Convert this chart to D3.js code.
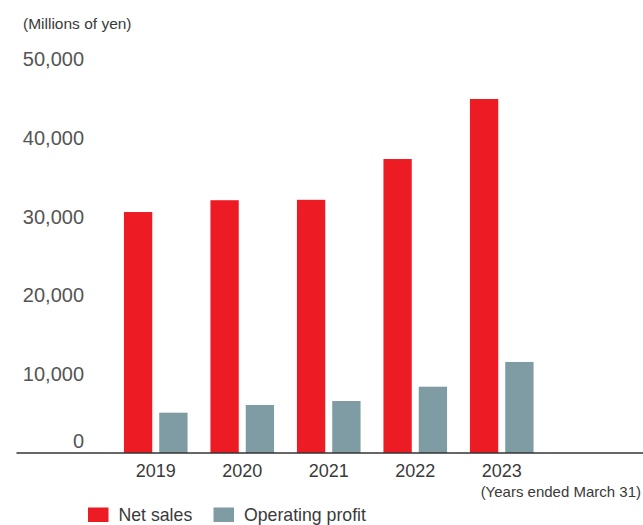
<!DOCTYPE html>
<html>
<head>
<meta charset="utf-8">
<script src="https://cdn.jsdelivr.net/npm/d3@7.9.0/dist/d3.min.js"></script>
<style>
  html, body { margin: 0; padding: 0; background: #fff; }
  svg text { font-family: "Liberation Sans", Arial, sans-serif; }
</style>
</head>
<body>
<div id="chart"></div>
<script>
// --- Data ---
const years = ["2019", "2020", "2021", "2022", "2023"];
const netSales = [30600, 32100, 32150, 37330, 44950];
const operatingProfit = [5120, 6100, 6600, 8420, 11560];
const yTicks = [0, 10000, 20000, 30000, 40000, 50000];
const seriesNames = ["Net sales", "Operating profit"];

// --- Setup ---
const W = 643;
const H = 525;
const BASE_Y = 453;

const RED = "#ed1c24";
const GRAY = "#7f9ba4";
const colors = [RED, GRAY];

const rows = years.map((yr, i) => ({ year: yr, values: [netSales[i], operatingProfit[i]] }));

const x0 = d3.scaleBand().domain(years).range([112.5, 545]).paddingInner(0);
const x1 = d3.scaleBand().domain([0, 1]).range([11.45, 75.05]).paddingInner(0.198);
const y = d3.scaleLinear().domain([0, 50000]).range([BASE_Y, 59.25]);

const svg = d3.select("#chart").append("svg").attr("width", W).attr("height", H);

// unit label
svg.append("text")
  .attr("x", 23)
  .attr("y", 29)
  .attr("font-size", 15.5)
  .attr("fill", "#3a3a3a")
  .text("(Millions of yen)");

// y axis labels
const yAxis = svg.append("g")
  .attr("transform", "translate(87,0)")
  .call(d3.axisLeft(y).tickValues(yTicks).tickSize(0).tickPadding(3).tickFormat(d3.format(",")));
yAxis.select(".domain").remove();
yAxis.selectAll("text")
  .attr("font-size", 20)
  .attr("fill", "#555")
  .style("font-family", "Liberation Sans, Arial, sans-serif");
// the zero label sits just above the baseline
yAxis.selectAll(".tick").filter((d) => d === 0).select("text").attr("y", -11.5);

// bars
const groups = svg.append("g")
  .selectAll("g")
  .data(rows)
  .join("g")
  .attr("transform", (d) => `translate(${x0(d.year)},0)`);

groups.selectAll("rect")
  .data((d) => d.values.map((v, k) => ({ k, v })))
  .join("rect")
  .attr("x", (d) => x1(d.k))
  .attr("width", x1.bandwidth())
  .attr("y", (d) => y(d.v))
  .attr("height", (d) => y(0) - y(d.v))
  .attr("fill", (d) => colors[d.k]);

// x axis labels
const xAxis = svg.append("g")
  .attr("transform", `translate(0,${BASE_Y})`)
  .call(d3.axisBottom(x0).tickSize(0).tickPadding(11));
xAxis.select(".domain").remove();
xAxis.selectAll("text")
  .attr("font-size", 18)
  .attr("fill", "#3a3a3a")
  .style("font-family", "Liberation Sans, Arial, sans-serif");

// baseline
svg.append("line")
  .attr("x1", 16.5)
  .attr("x2", W)
  .attr("y1", BASE_Y)
  .attr("y2", BASE_Y)
  .attr("stroke", "#333")
  .attr("stroke-width", 1.4);

svg.append("text")
  .attr("x", 641)
  .attr("y", 497)
  .attr("text-anchor", "end")
  .attr("font-size", 15)
  .attr("fill", "#3a3a3a")
  .text("(Years ended March 31)");

// legend
const legendX = [88, 213.5];
const legend = svg.append("g")
  .selectAll("g")
  .data(seriesNames)
  .join("g")
  .attr("transform", (d, i) => `translate(${legendX[i]},507.5)`);
legend.append("rect")
  .attr("width", 20.5)
  .attr("height", 14.5)
  .attr("fill", (d, i) => colors[i]);
legend.append("text")
  .attr("x", 30.5)
  .attr("y", 13.5)
  .attr("font-size", 17.7)
  .attr("fill", "#3a3a3a")
  .text((d) => d);
</script>
</body>
</html>
